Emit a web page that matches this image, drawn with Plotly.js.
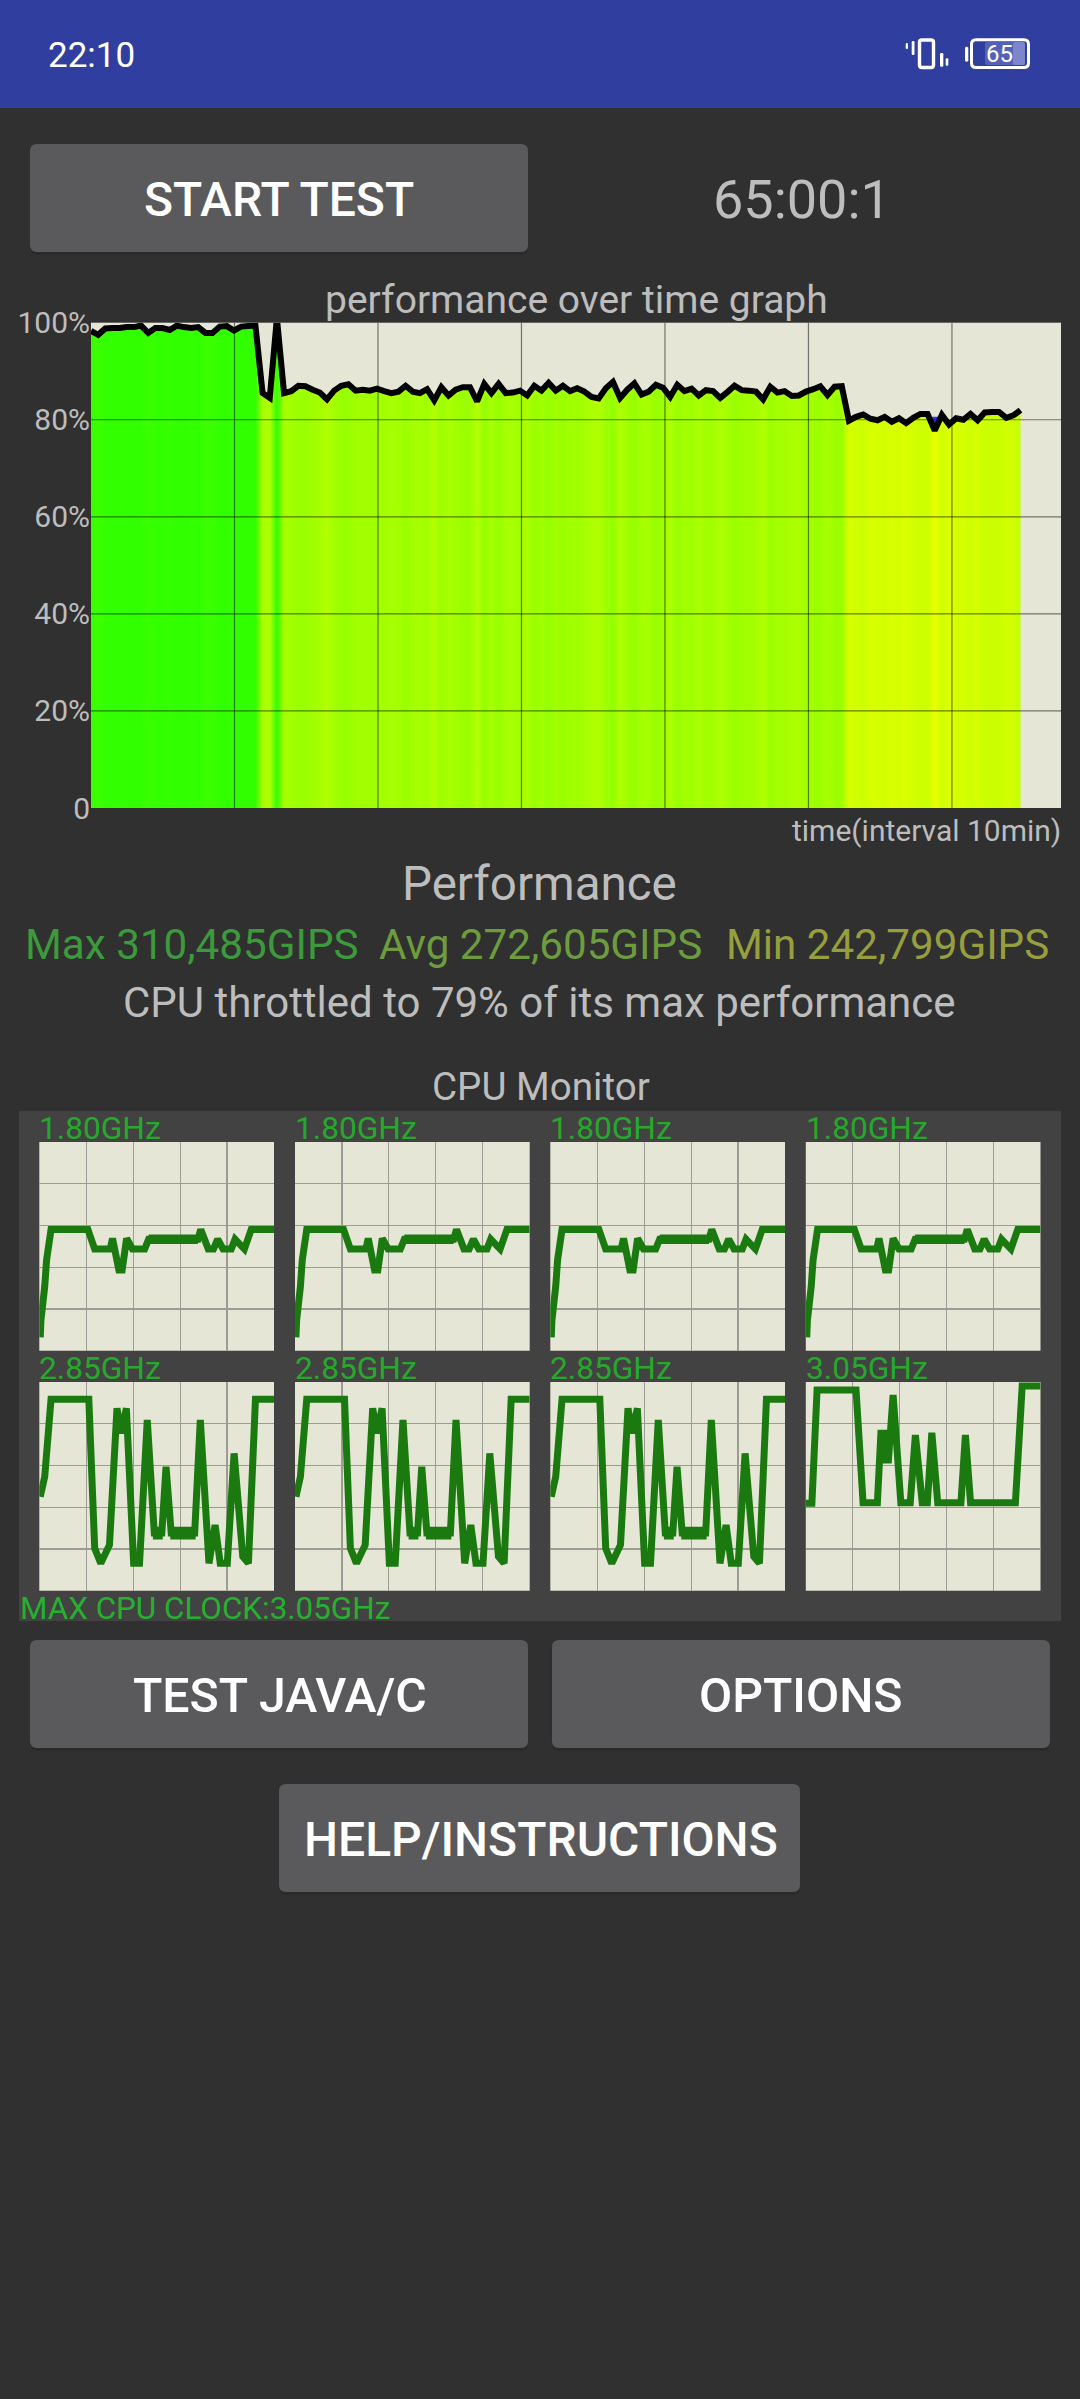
<!DOCTYPE html>
<html>
<head>
<meta charset="utf-8">
<script src="https://cdn.plot.ly/plotly-3.0.1.min.js"></script>
<style>html,body{margin:0;padding:0;background:#303030;overflow:hidden}#chart{width:1080px;height:2399px}</style>
</head>
<body>
<div id="chart"></div>
<script>
// ---- data ----
const sampleStepMin = 0.4983;
const perfValues = [
98.3,97.5,98.8,98.9,98.9,99.1,99.1,99.4,97.9,98.9,98.9,98.5,99.4,99.1,98.9,99.1,97.9,97.9,99.2,99.3,98.4,99.2,99.3,99.4,
85.5,84.5,101,85.5,85.9,87,86.9,86.2,85.6,84.2,
86,87,87.3,86,86.2,86,86.4,85.9,85.5,85.8,87,85.8,85.5,86.3,84,86.7,85,86.2,86.7,86.7,83.8,87.4,85.5,87.4,85.5,85.6,86,85,87,86,87.6,
86,87,85.9,86.5,85.8,84.7,84.4,86.5,87.8,84.5,86.2,87.5,85.2,85.8,87.2,86.6,84.7,87.2,85.9,86.4,85,86.1,85.9,84.5,85.7,87,86.1,86,85.8,84.2,86.8,85.6,85.9,
84.9,85,85.8,86.3,86.9,85.1,86.8,86.9,
79.8,80.6,81.1,80.2,79.9,80.6,79.6,80.3,79.3,80.4,81.2,81.2,77.8,81,79,80.3,80,81.2,79.9,81.5,81.6,81.6,80.4,80.9,82];
const perfTicks = [0,20,40,60,80,100];
const perfTickLabels = ['0','20%','40%','60%','80%','100%'];
const timeGridMin = [10,20,30,40,50,60];
const minMarkX = [58.2,59.2,58.9,58.5];
const minMarkY = [80.6,80.6,79.2,79.2];

const littleX = [0.4,0.7,2.3,3.1,5,20.7,23.6,30.2,31.2,33.9,35.3,37.2,39.7,44.9,46.6,67.6,68.8,72,74.2,76,78.3,81.8,83.4,87.4,90.3,100];
const littleY = [6.4,14.7,30.7,43.5,58.1,58.1,48.7,48.7,53.8,38.7,38.7,53.8,48.7,48.7,53.4,53.4,58.1,48.7,48.7,53.4,48.7,48.7,53.4,48.7,58.1,58.1];
const bigX = [0.4,0.9,2.3,5,21.1,23.6,26.2,29.9,33.1,34.9,37.1,40.2,42.7,46,49,52.2,54,56.2,66.2,68.6,72.3,74.9,77.1,80.1,83,86.7,89.1,92.1,100];
const bigY = [45,48.2,54.6,91.7,91.7,20.3,13.1,21.9,87.4,75.4,87.4,13.1,13.1,81.8,27.6,27.6,59.4,27.6,27.6,81.8,13.1,31.5,13.1,13.1,65.8,16.3,13.1,91.7,91.7];
const primeX = [0,2.6,4.8,21.4,24.4,30.5,32,33.5,34.2,35.2,37.2,40.5,44.5,46.7,49.6,51.8,53.7,56.2,66.1,68,70.2,89.3,92.2,100];
const primeY = [41.9,41.9,96.2,96.2,42.2,42.2,75.4,75.4,62.6,62.6,93.8,42.2,42.2,74.6,42.2,42.2,75.7,42.2,42.2,74.6,42.2,42.2,98.1,98.1];
// stretches where the clock flickers between two close steps, so the trace reads as a wide band
const littleBandX = [46.6,67.6];
const littleBandY = [53.4,53.4];
const bigBandX = [48.4,52.6,null,55.8,66.6];
const bigBandY = [27.6,27.6,null,27.6,27.6];
const coreLabels = ['1.80GHz','1.80GHz','1.80GHz','1.80GHz','2.85GHz','2.85GHz','2.85GHz','3.05GHz'];
const coreX = [littleX,littleX,littleX,littleX,bigX,bigX,bigX,primeX];
const coreY = [littleY,littleY,littleY,littleY,bigY,bigY,bigY,primeY];
const coreBandX = [littleBandX,littleBandX,littleBandX,littleBandX,bigBandX,bigBandX,bigBandX,[]];
const coreBandY = [littleBandY,littleBandY,littleBandY,littleBandY,bigBandY,bigBandY,bigBandY,[]];
const coreBandWidth = [9.5,9.5,9.5,9.5,12.7,12.7,12.7,0];

// ---- layout helpers ----
const W = 1080, H = 2399;
const FONT = 'Roboto, sans-serif';
const GREY = '#bdbdbd';
const BEIGE = '#e6e6d6';
const px = x => x / W, py = y => 1 - y / H;
const annotations = [], shapes = [];

function label(text, x, y, size, color, anchor, weight) {
  annotations.push({text, xref:'paper', yref:'paper', x:px(x), y:py(y), showarrow:false,
    xanchor:anchor||'center', yanchor:'middle', borderpad:0, borderwidth:0,
    font:{family:FONT, size, color, weight:weight||400}});
}
function rrect(x0,y0,x1,y1,r,fill,line,lw) {
  const X=a=>px(a).toFixed(5), Y=a=>py(a).toFixed(5);
  const path = `M${X(x0+r)},${Y(y0)}L${X(x1-r)},${Y(y0)}Q${X(x1)},${Y(y0)} ${X(x1)},${Y(y0+r)}`+
    `L${X(x1)},${Y(y1-r)}Q${X(x1)},${Y(y1)} ${X(x1-r)},${Y(y1)}`+
    `L${X(x0+r)},${Y(y1)}Q${X(x0)},${Y(y1)} ${X(x0)},${Y(y1-r)}`+
    `L${X(x0)},${Y(y0+r)}Q${X(x0)},${Y(y0)} ${X(x0+r)},${Y(y0)}Z`;
  shapes.push({type:'path', xref:'paper', yref:'paper', layer:'below', path,
    fillcolor:fill||'rgba(0,0,0,0)', line:{color:line||'rgba(0,0,0,0)', width:lw||0}});
}
function button(x0,y0,x1,y1,text,cx,cy,size) {
  rrect(x0,y0+2,x1,y1+3,7,'#2a2a2a');
  rrect(x0,y0,x1,y1,7,'#5a5a5c');
  label(text,cx,cy,size,'#ffffff','center',500);
}

// status bar
shapes.push({type:'rect',xref:'paper',yref:'paper',layer:'below',x0:0,x1:1,y0:py(108),y1:1,fillcolor:'#303f9f',line:{width:0}});
label('22:10',48,55,35,'#ffffff','left');
rrect(919.5,40,933.5,67.5,2.5,null,'#ffffff',3.4);
rrect(905.7,43,908,49,1,'#ffffff');
rrect(911.7,41,914.5,55,1.2,'#ffffff');
rrect(940,53,943.3,66.7,1.2,'#ffffff');
rrect(945.7,58.3,948.3,65.7,1,'#ffffff');
rrect(965,46.7,968.3,61.7,1.4,'#ffffff');
rrect(985,42,1025,65,2,'#5561b7');
rrect(1013,42,1025,65,2,'#7d86cc');
rrect(971.5,39.8,1028.5,67.5,4.5,null,'#ffffff',3);
label('65',999.3,54.3,24,'#ffffff','center');

button(30,144,528,252,'START TEST',279,199.5,48);
label('65:00:1',802,200,54,GREY);
label('performance over time graph',576,299.5,39,GREY);
label('time(interval 10min)',1061,830,30,GREY,'right');
label('Performance',539,884,47.5,GREY);
label('Max 310,485GIPS',25,944,42.2,'#3c9a3c','left');
label('Avg 272,605GIPS',379,944,42.2,'#6d9c3e','left');
label('Min 242,799GIPS',726,944,42.2,'#979e3e','left');
label('CPU throttled to 79% of its max performance',539,1002,42,GREY);
label('CPU Monitor',541,1086,38.6,GREY);

// CPU monitor panel
shapes.push({type:'rect',xref:'paper',yref:'paper',layer:'below',x0:px(19),x1:px(1061),y0:py(1621),y1:py(1111),fillcolor:'#424242',line:{width:0}});
label('MAX CPU CLOCK:3.05GHz',20,1608,31.4,'#27b030','left');

button(30,1640,528,1748,'TEST JAVA/C',280,1695.5,48.2);
button(552,1640,1050,1748,'OPTIONS',801,1695.5,48.2);
button(279,1784,800,1892,'HELP/INSTRUCTIONS',540.5,1839.5,48);

// ---- traces ----
const perfX = perfValues.map((_, i) => i * sampleStepMin);
function perfColor(v){
  const r = Math.max(40, Math.min(255, Math.round(51 + (98.8 - v) * 8.7)));
  return `rgb(${r},255,0)`;
}
const nS = perfValues.length - 1;
const stops = perfValues.map((v,i)=>[i/nS, perfColor(Math.min(v,99))]);

const traces = [
 {type:'scatter',mode:'lines',x:perfX,y:perfValues,fill:'tozeroy',line:{width:0,color:'rgba(0,0,0,0)',simplify:false},
  fillgradient:{type:'horizontal',colorscale:stops},hoverinfo:'skip',showlegend:false},
 {type:'scatter',mode:'lines',x:minMarkX,y:minMarkY,fill:'toself',fillcolor:'#3535ee',line:{width:0,color:'#3535ee'},hoverinfo:'skip',showlegend:false}
];
const gx=[],gy=[];
const xMax = 67.6;
perfTicks.slice(1,-1).forEach(t=>{gx.push(0,xMax,null);gy.push(t,t,null);});
timeGridMin.forEach(t=>{gx.push(t,t,null);gy.push(0,100,null);});
traces.push({type:'scatter',mode:'lines',x:gx,y:gy,line:{color:'rgba(0,0,0,0.5)',width:1.2},hoverinfo:'skip',showlegend:false});
traces.push({type:'scatter',mode:'lines',x:perfX,y:perfValues,line:{color:'#000000',width:6,shape:'linear',simplify:false},hoverinfo:'skip',showlegend:false});

const layout = {
  width:W,height:H,margin:{l:0,r:0,t:0,b:0,pad:0},
  paper_bgcolor:'#303030',plot_bgcolor:BEIGE,showlegend:false,
  annotations,shapes,
  xaxis:{domain:[px(91),px(1061)],range:[0,xMax],showgrid:false,zeroline:false,showticklabels:false,ticks:'',fixedrange:true},
  yaxis:{domain:[py(808),py(322.7)],range:[0,100],showgrid:false,zeroline:false,tickmode:'array',tickvals:perfTicks,ticktext:perfTickLabels,
    tickfont:{family:FONT,size:30,color:GREY},ticks:'',ticklen:0,fixedrange:true}
};

const colLeft=[39.3,295,550.3,805.8], rowTop=[1142,1382], pw=234.7, ph=208.7;
coreLabels.forEach((name,i)=>{
  const n=i+2, c=i%4, r=Math.floor(i/4);
  const xl=colLeft[c], yt=rowTop[r];
  shapes.push({type:'rect',xref:'paper',yref:'paper',layer:'below',x0:px(xl),x1:px(xl+pw),y0:py(yt+ph),y1:py(yt),fillcolor:BEIGE,line:{width:0}});
  layout['xaxis'+n]={domain:[px(xl),px(xl+pw)],range:[0,100],anchor:'y'+n,tickmode:'array',tickvals:[20,40,60,80],showgrid:true,gridcolor:'#9c9c94',gridwidth:1.2,zeroline:false,showticklabels:false,ticks:'',fixedrange:true};
  layout['yaxis'+n]={domain:[py(yt+ph),py(yt)],range:[0,100],anchor:'x'+n,tickmode:'array',tickvals:[20,40,60,80],showgrid:true,gridcolor:'#9c9c94',gridwidth:1.2,zeroline:false,showticklabels:false,ticks:'',fixedrange:true};
  traces.push({type:'scatter',mode:'lines',xaxis:'x'+n,yaxis:'y'+n,x:coreX[i],y:coreY[i],line:{color:'#1a7a10',width:7},hoverinfo:'skip',showlegend:false});
  if(coreBandWidth[i]>0) traces.push({type:'scatter',mode:'lines',xaxis:'x'+n,yaxis:'y'+n,x:coreBandX[i],y:coreBandY[i],line:{color:'#1a7a10',width:coreBandWidth[i]},hoverinfo:'skip',showlegend:false});
  label(name,xl,yt-14,31.7,'#27a82c','left');
});

Plotly.newPlot('chart',traces,layout,{displayModeBar:false,staticPlot:true});
</script>
</body>
</html>
